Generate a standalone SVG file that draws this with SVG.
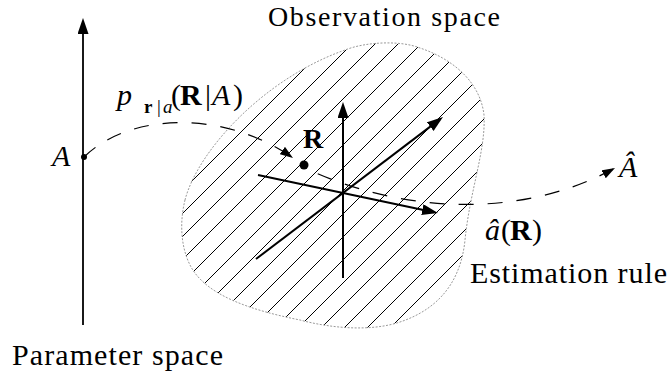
<svg xmlns="http://www.w3.org/2000/svg" width="669" height="379" viewBox="0 0 669 379" font-family="'Liberation Serif', 'DejaVu Serif', serif">
<style>
text{font-family:'Liberation Serif','DejaVu Serif',serif;font-size:30px;fill:#000}
.it{font-style:italic}
.bf{font-weight:bold}
.axis{stroke:#000;stroke-width:2;fill:none}
.dash{stroke:#000;stroke-width:1.2;fill:none;stroke-dasharray:15 14}
.hatch{stroke:#000;stroke-width:1;fill:none}
.outline{stroke:#999;stroke-width:1;fill:none;stroke-dasharray:2 1.5}
</style>
<defs>
<marker id="big" markerUnits="userSpaceOnUse" markerWidth="18" markerHeight="12" refX="12" refY="5.5" orient="auto">
<path d="M0,0 L16,5.5 L0,11 Z" fill="#000"/>
</marker>
<marker id="small" markerUnits="userSpaceOnUse" markerWidth="14" markerHeight="10" refX="13" refY="4.5" orient="auto">
<path d="M0,0 L13,4.5 L0,9 Z" fill="#000"/>
</marker>
<clipPath id="blobclip">
<path d="M185,200 C198,150 265,78 345,50 C365,42 400,40 420,48 C450,58 480,80 484,115 C486,150 470,190 465,240 C460,290 430,312 400,322 C370,332 330,328 300,320 C250,310 205,295 190,265 C180,245 180,220 185,200 Z"/>
</clipPath>
</defs>

<g id="observation-space">
<path class="hatch" clip-path="url(#blobclip)" d="M170,157 L500,-173 M170,180 L500,-150 M170,203 L500,-127 M170,226 L500,-104 M170,249 L500,-81 M170,272 L500,-58 M170,295 L500,-35 M170,318 L500,-12 M170,341 L500,11 M170,364 L500,34 M170,387 L500,57 M170,410 L500,80 M170,433 L500,103 M170,456 L500,126 M170,479 L500,149 M170,502 L500,172 M170,525 L500,195 M170,548 L500,218 M170,571 L500,241 M170,594 L500,264"/>
<path class="outline" d="M185,200 C198,150 265,78 345,50 C365,42 400,40 420,48 C450,58 480,80 484,115 C486,150 470,190 465,240 C460,290 430,312 400,322 C370,332 330,328 300,320 C250,310 205,295 190,265 C180,245 180,220 185,200 Z"/>
<line class="axis" x1="343" y1="278" x2="343" y2="106" marker-end="url(#big)"/>
<line class="axis" x1="258" y1="175" x2="434.1" y2="212.2" marker-end="url(#big)"/>
<line class="axis" x1="256" y1="259" x2="439.8" y2="119.4" marker-end="url(#big)"/>
<circle cx="304" cy="165" r="4.5" fill="#000"/>
<text class="bf" x="303" y="148" style="font-size:28px">R</text>
<text x="268" y="26" style="font-size:28px" textLength="232" lengthAdjust="spacing">Observation space</text>
</g>

<g id="parameter-space">
<line x1="83" y1="325" x2="83" y2="22" stroke="#000" stroke-width="1.8" marker-end="url(#big)"/>
<circle cx="84" cy="157" r="3" fill="#000"/>
<text class="it" x="52" y="166">A</text>
<text x="12" y="365" textLength="211" lengthAdjust="spacing">Parameter space</text>
</g>

<g id="estimate">
<text class="it" x="619" y="177">Â</text>
</g>

<g id="connectors">
<path class="dash" d="M84,157 C130,112 225,110 293,158" marker-end="url(#small)"/>
<path class="dash" style="stroke-dashoffset:15" d="M305,168 C400,213 520,220 615,168" marker-end="url(#small)"/>
</g>

<g id="labels">
<text class="it" x="117" y="105">p</text>
<text class="bf" x="144" y="113" style="font-size:19px">r</text>
<text x="157" y="113" style="font-size:19px">|</text>
<text class="it" x="163" y="113" style="font-size:19px">a</text>
<text x="171" y="105">(</text>
<text class="bf" x="180" y="105">R</text>
<text x="205" y="105">|</text>
<text class="it" x="212" y="105">A</text>
<text x="233" y="105">)</text>
<text class="it" x="485" y="240">â</text>
<text x="501" y="240">(</text>
<text class="bf" x="510" y="240">R</text>
<text x="532" y="240">)</text>
<text x="470" y="283" textLength="197" lengthAdjust="spacing">Estimation rule</text>
</g>
</svg>
